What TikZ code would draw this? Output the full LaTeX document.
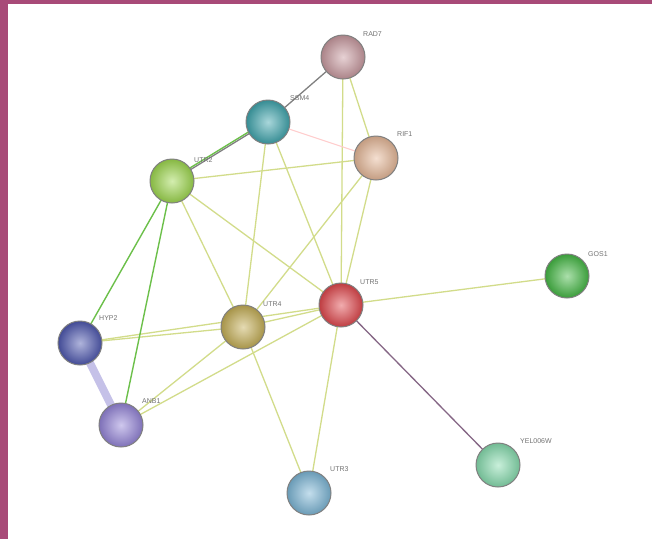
\documentclass[tikz,border=0pt]{standalone}
\usepackage{fontspec}
\setmainfont{Liberation Sans}
\definecolor{frame}{HTML}{A84A78}
\definecolor{cRAD}{HTML}{C99AA0}
\definecolor{cSSM}{HTML}{3FA5AD}
\definecolor{cRIF}{HTML}{E6B898}
\definecolor{cUTb}{HTML}{9ED84E}
\definecolor{cUTe}{HTML}{E0474C}
\definecolor{cGOS}{HTML}{44B844}
\definecolor{cHYP}{HTML}{4E58B0}
\definecolor{cANB}{HTML}{9484D8}
\definecolor{cUTd}{HTML}{C4AE55}
\definecolor{cUTc}{HTML}{7CB6D6}
\definecolor{cYEL}{HTML}{86DCAE}
\definecolor{tmline}{HTML}{D2DC8A}
\definecolor{exline}{HTML}{6CC04A}
\begin{document}
\begin{tikzpicture}[x=1pt,y=-1pt,
  prot/.style={circle,minimum size=44pt,inner sep=0pt,draw=black!50,line width=1pt,
    inner color=#1!45!white,outer color=#1!85!black},
  lbl/.style={font=\fontsize{7}{8}\selectfont,text=black!55,anchor=west,inner sep=1pt},
  tm/.style={draw=tmline,line width=1.3pt},
  ex/.style={draw=exline,line width=1.4pt},
  co/.style={draw=black!50,line width=1.3pt},
  hm/.style={draw=cANB!70!cHYP,line width=8pt,opacity=.45}]
\useasboundingbox (0,0) rectangle (652,539);
\fill[white] (0,0) rectangle (652,539);
% frame
\fill[frame] (0,0) rectangle (652,4);
\fill[frame] (0,0) rectangle (8,539);
% node centres
\coordinate (pRAD) at (343,57);
\coordinate (pSSM) at (268,122);
\coordinate (pRIF) at (376,158);
\coordinate (pUT2) at (172,181);
\coordinate (pUT5) at (341,305);
\coordinate (pGOS) at (567,276);
\coordinate (pHYP) at (80,343);
\coordinate (pANB) at (121,425);
\coordinate (pUT4) at (243,327);
\coordinate (pUT3) at (309,493);
\coordinate (pYEL) at (498,465);
% edges
\draw[hm] (pHYP) -- (pANB);
\draw[tm] (pRAD) -- (pUT5);
\draw[tm] (pRAD) -- (pRIF);
\draw[draw=red!20,line width=1pt] (pSSM) -- (pRIF);
\draw[tm] (pSSM) -- (pUT5);
\draw[tm] (pSSM) -- (pUT4);
\draw[tm] (pUT2) -- (pRIF);
\draw[tm] (pRIF) -- (pUT5);
\draw[tm] (pRIF) -- (pUT4);
\draw[tm] (pUT2) -- (pUT5);
\draw[tm] (pUT2) -- (pUT4);
\draw[tm] (pHYP) -- (pUT4);
\draw[tm] (pHYP) -- (pUT5);
\draw[tm] (pANB) -- (pUT4);
\draw[tm] (pANB) -- (pUT5);
\draw[tm] (pUT4) -- (pUT5);
\draw[tm] (pUT4) -- (pUT3);
\draw[tm] (pUT5) -- (pUT3);
\draw[tm] (pUT5) -- (pGOS);
\draw[ex] (pUT2) -- (pHYP);
\draw[ex] (pUT2) -- (pANB);
\draw[ex] ([yshift=2pt]pUT2) -- ([yshift=2pt]pSSM);
\draw[co] (pUT2) -- (pSSM);
\draw[co] (pSSM) -- (pRAD);
\draw[draw=violet!40!black!60,line width=1.3pt] (pUT5) -- (pYEL);
% proteins
\node[prot=cRAD] (RAD) at (pRAD) {};
\node[prot=cSSM] (SSM) at (pSSM) {};
\node[prot=cRIF] (RIF) at (pRIF) {};
\node[prot=cUTb] (UT2) at (pUT2) {};
\node[prot=cUTe] (UT5) at (pUT5) {};
\node[prot=cGOS] (GOS) at (pGOS) {};
\node[prot=cHYP] (HYP) at (pHYP) {};
\node[prot=cANB] (ANB) at (pANB) {};
\node[prot=cUTd] (UT4) at (pUT4) {};
\node[prot=cUTc] (UT3) at (pUT3) {};
\node[prot=cYEL] (YEL) at (pYEL) {};
% labels
\node[lbl] (lRAD) at (362,34) {RAD7};
\node[lbl] (lSSM) at (289,98) {SSM4};
\node[lbl] (lRIF) at (396,134) {RIF1};
\node[lbl] (lUT2) at (193,160) {UTR2};
\node[lbl] (lUT5) at (359,282) {UTR5};
\node[lbl] (lGOS) at (587,254) {GOS1};
\node[lbl] (lHYP) at (98,318) {HYP2};
\node[lbl] (lANB) at (141,401) {ANB1};
\node[lbl] (lUT4) at (262,304) {UTR4};
\node[lbl] (lUT3) at (329,469) {UTR3};
\node[lbl] (lYEL) at (519,441) {YEL006W};
\end{tikzpicture}
\end{document}
